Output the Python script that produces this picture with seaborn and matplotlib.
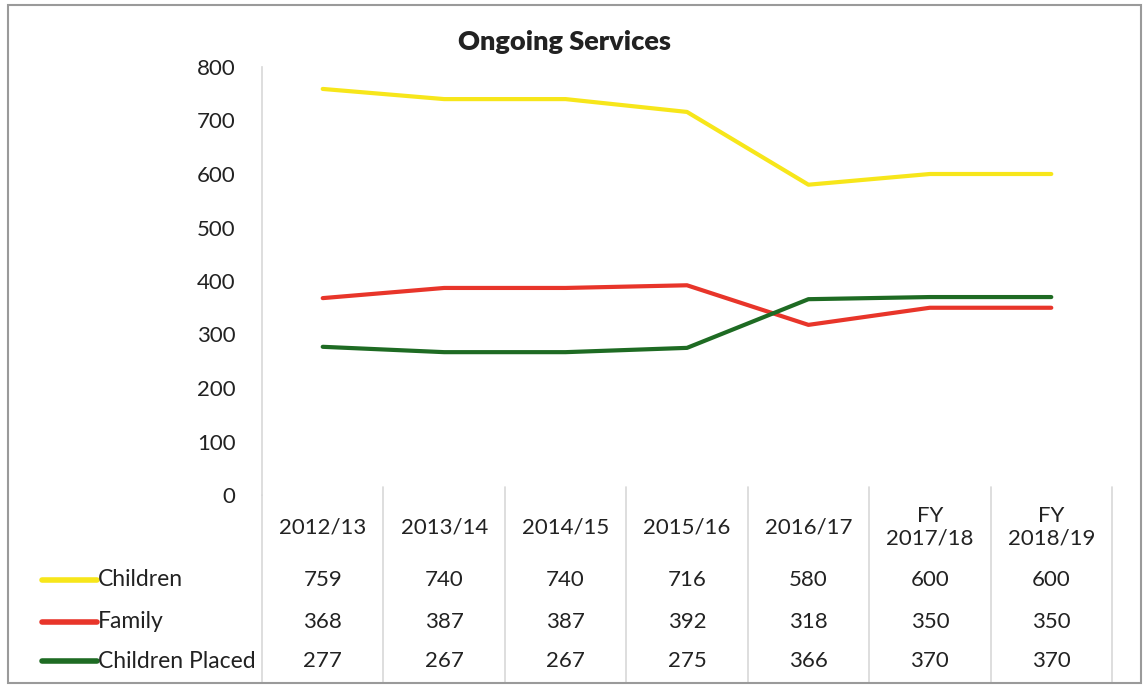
import matplotlib
matplotlib.use("Agg")
import matplotlib.pyplot as plt
import matplotlib.transforms as mtransforms
from matplotlib.lines import Line2D
from matplotlib.patches import Rectangle
import seaborn as sns
import pandas as pd

categories = ["2012/13", "2013/14", "2014/15", "2015/16", "2016/17", "FY\n2017/18", "FY\n2018/19"]
children = [759, 740, 740, 716, 580, 600, 600]
family = [368, 387, 387, 392, 318, 350, 350]
children_placed = [277, 267, 267, 275, 366, 370, 370]
series_names = ["Children", "Family", "Children Placed"]
colors = ["#f7e61a", "#e8352a", "#1e6b23"]
yticks = [0, 100, 200, 300, 400, 500, 600, 700, 800]

sns.set_style("white")
plt.rcParams['font.family'] = ['Lato', 'DejaVu Sans']

rows = []
for name, vals in zip(series_names, [children, family, children_placed]):
    for i, v in enumerate(vals):
        rows.append({"pos": i, "value": v, "series": name})
df = pd.DataFrame(rows)

fig = plt.figure(figsize=(11.46, 6.88), dpi=100)
ax = fig.add_axes([262/1146, (688-495)/688, 850/1146, 428/688])

sns.lineplot(data=df, x="pos", y="value", hue="series", palette=colors,
             hue_order=series_names, linewidth=3, ax=ax, legend=False, sort=False)

ax.set_xlim(-0.5, len(categories) - 0.5)
ax.set_ylim(0, 800)
ax.set_yticks(yticks)
ax.set_yticklabels([str(t) for t in yticks], fontsize=16, color="#222222")
ax.tick_params(axis="y", length=0, pad=19)
ax.set_xticks([])
ax.set_xlabel("")
ax.set_ylabel("")
for s in ["top", "right", "bottom"]:
    ax.spines[s].set_visible(False)
ax.spines["left"].set_color("#d8d8d8")
ax.spines["left"].set_linewidth(1.2)

fig.text(565/1146, 1 - 42/688, "Ongoing Services", ha="center", va="center",
         fontsize=19.5, fontweight="heavy", color="#222222")

# data table below plot (x in data coords, y in figure pixels)
trans = mtransforms.blended_transform_factory(ax.transData, fig.transFigure)
def fy(py):
    return 1 - py / 688

for i, c in enumerate(categories):
    ax.text(i, fy(527), c, transform=trans, ha="center", va="center",
            fontsize=16, color="#222222", linespacing=1.15, clip_on=False)

row_y = [580, 622, 661]
for r, (name, vals, col) in enumerate(zip(series_names, [children, family, children_placed], colors)):
    for i, v in enumerate(vals):
        ax.text(i, fy(row_y[r]), str(v), transform=trans, ha="center", va="center",
                fontsize=16, color="#222222", clip_on=False)
    fig.add_artist(Line2D([42/1146, 97/1146], [fy(row_y[r]), fy(row_y[r])],
                          color=col, linewidth=4, transform=fig.transFigure))
    fig.text(98/1146, fy(row_y[r]), name, ha="left", va="center",
             fontsize=16.5, color="#222222")

for b in range(len(categories) + 1):
    x = b - 0.5
    top = 487 if b > 0 else 495
    ax.add_artist(Line2D([x, x], [fy(top), fy(683)], transform=trans,
                         color="#d8d8d8", linewidth=1.2, clip_on=False))

fig.add_artist(Rectangle((8/1146, fy(683)), (1141-8)/1146, (683-5)/688,
                         transform=fig.transFigure, fill=False,
                         edgecolor="#9a9a9a", linewidth=1.5))

fig.savefig("out.png", dpi=100)
